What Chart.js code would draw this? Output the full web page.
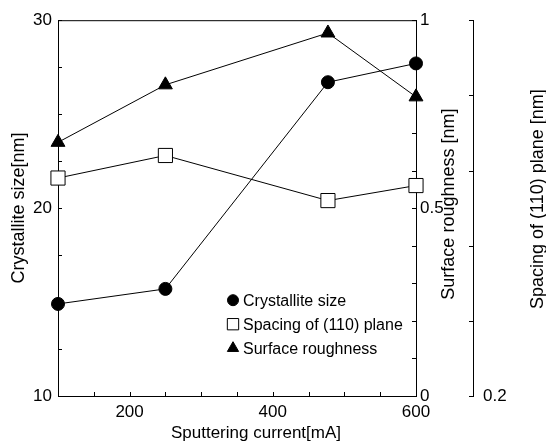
<!DOCTYPE html>
<html>
<head>
<meta charset="utf-8">
<script src="https://cdn.jsdelivr.net/npm/chart.js@4"></script>
<style>
  body { margin: 0; background: #fff; }
  #wrap { width: 546px; height: 442px; }
</style>
</head>
<body>
<div id="wrap"><canvas id="chart" width="546" height="442"></canvas></div>
<script>
// values
var current = [100, 250, 477, 600];              // Sputtering current [mA]
var crystalliteSize = [14.9, 15.7, 26.7, 27.7];  // nm
var planeSpacing = [0.229, 0.232, 0.226, 0.228]; // nm
var roughness = [0.675, 0.828, 0.966, 0.796];    // nm

var seriesNames = ['Crystallite size', 'Spacing of (110) plane', 'Surface roughness'];

function points(ys) {
    return current.map(function (x, i) { return { x: x, y: ys[i] }; });
}

function near(a, b) { return Math.abs(a - b) < 1e-6; }

var FONT = '"Liberation Sans", Arial, sans-serif';
Chart.defaults.font.family = FONT;
Chart.defaults.color = '#000';

// frame top line + small inward tick marks
var innerTicks = {
    id: 'innerTicks',
    beforeDatasetsDraw: function (chart) {
        var ctx = chart.ctx, a = chart.chartArea, s = chart.scales;
        ctx.save();
        ctx.strokeStyle = '#000';
        ctx.lineWidth = 1;
        ctx.beginPath();
        ctx.moveTo(a.left, a.top + 0.5);
        ctx.lineTo(a.right, a.top + 0.5);
        s.x.ticks.forEach(function (t) {
            var px = Math.round(s.x.getPixelForValue(t.value)) + 0.5;
            ctx.moveTo(px, a.bottom);
            ctx.lineTo(px, a.bottom - 4);
        });
        s.y.ticks.forEach(function (t) {
            var py = Math.round(s.y.getPixelForValue(t.value)) + 0.5;
            ctx.moveTo(a.left, py);
            ctx.lineTo(a.left + 4, py);
        });
        s.y1.ticks.forEach(function (t) {
            var py = Math.round(s.y1.getPixelForValue(t.value)) + 0.5;
            ctx.moveTo(a.right, py);
            ctx.lineTo(a.right - 4, py);
        });
        s.y2.ticks.forEach(function (t) {
            var py = Math.round(s.y2.getPixelForValue(t.value)) + 0.5;
            ctx.moveTo(s.y2.left, py);
            ctx.lineTo(s.y2.left - 4, py);
        });
        ctx.stroke();
        ctx.restore();
    }
};

// axis titles placed as in the original (right ones read bottom-to-top)
var axisTitles = {
    id: 'axisTitles',
    afterDraw: function (chart) {
        var ctx = chart.ctx, a = chart.chartArea;
        var mid = (a.top + a.bottom) / 2;
        ctx.save();
        ctx.fillStyle = '#000';
        ctx.textAlign = 'center';
        ctx.textBaseline = 'middle';
        ctx.font = '17px ' + FONT;
        ctx.fillText(chart.scales.x.options.title.text, (a.left + a.right) / 2 + 19, chart.scales.x.bottom - 9);
        ctx.font = '18px ' + FONT;
        [['y1', 24, -4], ['y2', 8, -9]].forEach(function (d) {
            var sc = chart.scales[d[0]];
            ctx.save();
            ctx.translate(sc.right - d[1], mid + d[2]);
            ctx.rotate(-Math.PI / 2);
            ctx.fillText(sc.options.title.text, 0, 0);
            ctx.restore();
        });
        ctx.restore();
    }
};

// legend inside the plot, lower right
var insideLegend = {
    id: 'insideLegend',
    afterDraw: function (chart) {
        var ctx = chart.ctx, a = chart.chartArea;
        var x0 = a.left + 175, y0 = a.top + 280, gap = 24;
        chart.data.datasets.forEach(function (ds, i) {
            var y = y0 + i * gap;
            ctx.save();
            ctx.fillStyle = ds.pointBackgroundColor;
            ctx.strokeStyle = '#000';
            ctx.lineWidth = 1;
            Chart.helpers.drawPoint(ctx, {
                pointStyle: ds.pointStyle,
                radius: ds.legendRadius,
                rotation: 0,
                borderWidth: 1
            }, x0, y);
            ctx.fillStyle = '#000';
            ctx.font = '16px ' + FONT;
            ctx.textBaseline = 'middle';
            ctx.fillText(ds.label, x0 + 10, y + 1);
            ctx.restore();
        });
    }
};

var ctx = document.getElementById('chart').getContext('2d');
new Chart(ctx, {
    type: 'line',
    data: {
        datasets: [{
            label: seriesNames[0],
            data: points(crystalliteSize),
            yAxisID: 'y',
            borderColor: '#000',
            borderWidth: 1,
            pointStyle: 'circle',
            pointRadius: 6.5,
            legendRadius: 5.5,
            pointBackgroundColor: '#000',
            pointBorderColor: '#000',
            clip: false
        }, {
            label: seriesNames[1],
            data: points(planeSpacing),
            yAxisID: 'y2',
            borderColor: '#000',
            borderWidth: 1,
            pointStyle: 'rect',
            pointRadius: 10,
            legendRadius: 8,
            pointBackgroundColor: '#fff',
            pointBorderColor: '#000',
            pointBorderWidth: 1,
            clip: false
        }, {
            label: seriesNames[2],
            data: points(roughness),
            yAxisID: 'y1',
            borderColor: '#000',
            borderWidth: 1,
            pointStyle: 'triangle',
            pointRadius: 8,
            legendRadius: 6.5,
            pointBackgroundColor: '#000',
            pointBorderColor: '#000',
            clip: false
        }]
    },
    options: {
        responsive: false,
        animation: false,
        layout: { padding: { top: 18, left: 0, right: 0, bottom: 0 } },
        plugins: {
            legend: { display: false },
            tooltip: { enabled: false }
        },
        scales: {
            x: {
                type: 'linear',
                min: 100,
                max: 600,
                grid: { display: false, drawTicks: false },
                border: { display: true, color: '#000', width: 1 },
                ticks: {
                    stepSize: 50,
                    autoSkip: false,
                    maxRotation: 0,
                    padding: 6,
                    font: { size: 17 },
                    callback: function (v) { return (v % 200 === 0) ? String(v) : ''; }
                },
                title: { display: false, text: 'Sputtering current[mA]' },
                afterFit: function (sc) { sc.height = 46; }
            },
            y: {
                position: 'left',
                min: 10,
                max: 30,
                grid: { display: false, drawTicks: false },
                border: { display: true, color: '#000', width: 1 },
                ticks: {
                    stepSize: 2.5,
                    autoSkip: false,
                    padding: 6,
                    font: { size: 17 },
                    callback: function (v) { return (v % 10 === 0) ? String(v) : ''; }
                },
                title: {
                    display: true,
                    text: 'Crystallite size[nm]',
                    font: { size: 18, lineHeight: 1 },
                    padding: { top: 10, bottom: 0 }
                },
                afterFit: function (sc) { sc.width = 58; }
            },
            y1: {
                position: 'right',
                min: 0,
                max: 1,
                grid: { display: false, drawTicks: false },
                border: { display: true, color: '#000', width: 1 },
                ticks: {
                    stepSize: 0.1,
                    autoSkip: false,
                    padding: 4,
                    font: { size: 17 },
                    callback: function (v) {
                        if (near(v, 0)) return '0';
                        if (near(v, 0.5)) return '0.5';
                        if (near(v, 1)) return '1';
                        return '';
                    }
                },
                title: { display: false, text: 'Surface roughness [nm]' },
                afterFit: function (sc) { sc.width = 57; }
            },
            y2: {
                position: 'right',
                min: 0.2,
                max: 0.25,
                grid: { display: false, drawTicks: false },
                border: { display: true, color: '#000', width: 1 },
                ticks: {
                    stepSize: 0.01,
                    autoSkip: false,
                    padding: 10,
                    font: { size: 17 },
                    callback: function (v) { return near(v, 0.2) ? '0.2' : ''; }
                },
                title: { display: false, text: 'Spacing of (110) plane [nm]' },
                afterFit: function (sc) { sc.width = 73; }
            }
        }
    },
    plugins: [innerTicks, axisTitles, insideLegend]
});
</script>
</body>
</html>
